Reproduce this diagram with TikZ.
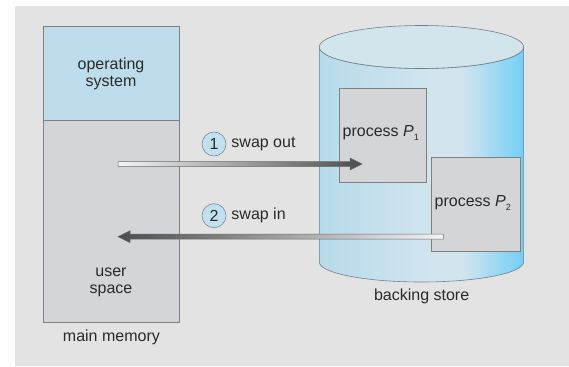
\documentclass[tikz,border=0pt]{standalone}
\usepackage{fontspec}
\setmainfont{Liberation Sans}
\usetikzlibrary{calc}

\definecolor{panel}{HTML}{E3E3E3}
\definecolor{osblue}{HTML}{BEDDEC}
\definecolor{usergray}{HTML}{D3D5D8}
\definecolor{edge}{HTML}{808080}
\definecolor{cylL}{HTML}{B6DBEB}
\definecolor{cylM}{HTML}{D2E5EE}
\definecolor{cylR}{HTML}{72CFF6}
\definecolor{cyltop}{HTML}{D2E4EC}
\definecolor{cyledge}{HTML}{70808A}
\definecolor{procgray}{HTML}{D4D5D7}
\definecolor{numblue}{HTML}{C2E1EF}
\definecolor{ink}{HTML}{2A2A2A}
\definecolor{arrlight}{HTML}{F4F4F4}
\definecolor{arrdark}{HTML}{4C4C4C}

% side of the drum: light on the left, pale in the middle, deep blue on the right
\pgfdeclarehorizontalshading{drum}{100bp}{color(0bp)=(cylL); color(25bp)=(cylL);
  color(53bp)=(cylM); color(60bp)=(cylM); color(75bp)=(cylR); color(100bp)=(cylR)}

\newcommand{\procname}[1]{process \textit{P}\raisebox{-0.45ex}{\fontsize{9}{9}\selectfont #1}}

\begin{document}
\begin{tikzpicture}[x=1pt,y=-1pt,
  font=\fontsize{16}{16.5}\selectfont, text=ink,
  membox/.style={draw=edge, line width=0.6pt, anchor=north west, inner sep=0pt},
  procbox/.style={draw=edge, line width=0.6pt, fill=procgray, anchor=north west, inner sep=0pt},
  label/.style={inner sep=0pt, align=center},
  stepnum/.style={circle, draw=cyledge, line width=0.5pt, fill=numblue, minimum size=24pt, inner sep=0pt},
  swaparrow/.style={draw=gray!85!black, line width=0.5pt}]

\useasboundingbox (0,0) rectangle (569,366);
\fill[white] (0,0) rectangle (569,366);
\fill[panel] (15,6) rectangle (569,366);

% main memory
\node (os) [membox, fill=osblue, minimum width=135.3pt, minimum height=93.7pt] at (43.2,26.3) {};
\node (user) [membox, fill=usergray, minimum width=135.3pt, minimum height=201.7pt] at (43.2,120) {};
\node (ostext) [label] at (111,74) {operating\\system};
\node (usertext) [label] at (111,282.5) {user\\space};
\node (mm) [label] at (111.4,337) {main memory};

% backing store drum
\shade[shading=drum, draw=cyledge, line width=0.6pt]
  (319.3,47) -- (319.3,262)
  arc[start angle=180, end angle=360, x radius=102.15pt, y radius=20pt]
  -- (523.6,47)
  arc[start angle=0, end angle=-180, x radius=102.15pt, y radius=21.5pt] -- cycle;
\draw[fill=cyltop, draw=cyledge, line width=0.6pt] (421.45,47) ellipse[x radius=102.15pt, y radius=21.5pt];
\node (bs) [label] at (421.6,296.7) {backing store};

% processes on the backing store
\node (p1) [procbox, minimum width=87.1pt, minimum height=93.4pt] at (339.3,88.3) {};
\node (p2) [procbox, minimum width=88.6pt, minimum height=94pt] at (431,156.7) {};
\node (p1text) [inner sep=0pt, anchor=west] at (342.5,133) {\procname{1}};
\node (p2text) [inner sep=0pt, anchor=west] at (434.5,203) {\procname{2}};

% arrow ends
\coordinate (outtail) at (118,164);
\coordinate (outtip) at (362,164);
\coordinate (intail) at (443.4,236.7);
\coordinate (intip) at (118,236.7);

% 1: swap out
\shade[swaparrow, left color=arrlight, right color=arrdark]
  ($(outtail)+(0,-2.5)$) -- ($(outtip)+(-12,-2.5)$) -- ($(outtip)+(-12,-6)$)
  -- (outtip) -- ($(outtip)+(-12,6)$) -- ($(outtip)+(-12,2.5)$)
  -- ($(outtail)+(0,2.5)$) -- cycle;

% 2: swap in
\shade[swaparrow, left color=arrdark, right color=arrlight]
  ($(intail)+(0,-2.5)$) -- ($(intip)+(12,-2.5)$) -- ($(intip)+(12,-6)$)
  -- (intip) -- ($(intip)+(12,6)$) -- ($(intip)+(12,2.5)$)
  -- ($(intail)+(0,2.5)$) -- cycle;

% step labels
\node (n1) [stepnum] at (214,144) {1};
\node (l1) [inner sep=0pt, anchor=west] at ([xshift=5pt]n1.east) {swap out};
\node (n2) [stepnum] at (214,215.7) {2};
\node (l2) [inner sep=0pt, anchor=west] at ([xshift=5pt]n2.east) {swap in};
\end{tikzpicture}
\end{document}
